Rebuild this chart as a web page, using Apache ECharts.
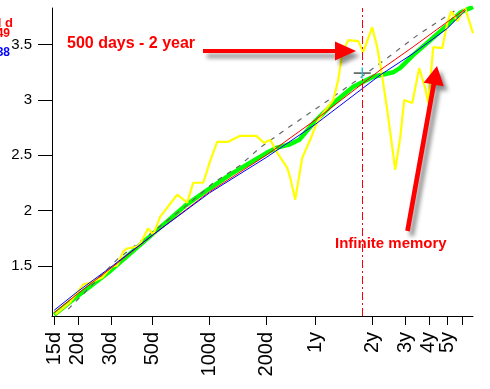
<!DOCTYPE html>
<html>
<head>
<meta charset="utf-8">
<script src="https://cdn.jsdelivr.net/npm/echarts@6/dist/echarts.min.js"></script>
<style>
html,body{margin:0;padding:0;background:#fff;}
#c{width:490px;height:389px;}
</style>
</head>
<body>
<div id="c"></div>
<script>
// ---- data (x in days, y values) ----
const xTickDays = [15, 20, 30, 50, 100, 200, 365, 730, 1095, 1460, 1825, 2190];
const xTickLabels = ['15d', '20d', '30d', '50d', '100d', '200d', '1y', '2y', '3y', '4y', '5y', ''];
const yTickValues = [1.5, 2, 2.5, 3, 3.5];

const fitDays = [15, 20, 30, 50, 100, 200, 365, 805, 1205, 1828, 2281];
const redVals = [1.08, 1.25, 1.48, 1.78, 2.17, 2.50, 2.82, 3.27, 3.48, 3.705, 3.82];
const blueVals = [1.10, 1.27, 1.49, 1.78, 2.16, 2.48, 2.78, 3.225, 3.42, 3.646, 3.81];

const greenDays = [15, 20, 30, 50, 75, 100, 130, 200, 229, 268, 300, 356, 454, 580, 740, 944, 1030, 1205, 1486, 1828, 2143, 2505];
const greenVals = [1.06, 1.23, 1.46, 1.79, 2.05, 2.20, 2.33, 2.52, 2.57, 2.60, 2.64, 2.79, 2.97, 3.12, 3.21, 3.25, 3.29, 3.405, 3.54, 3.675, 3.79, 3.84];

const grayDays = [17.8, 32.4, 50.2, 76.2, 104.7, 145.6, 185.9, 261.8, 397, 608, 879, 1282, 2065];
const grayVals = [1.11, 1.56, 1.81, 2.05, 2.25, 2.41, 2.57, 2.75, 2.96, 3.18, 3.38, 3.59, 3.82];

const yellowDays = [15.2, 18.2, 21.4, 23.3, 27.0, 28.7, 30.5, 32.4, 34.9, 36.6, 41.4, 42.9, 47.3, 50.3, 54.8, 67.4, 76.2, 82.0, 92.7, 100.9, 109.9, 125.8, 145.7, 177.1, 195.3, 210.1, 228.9, 258.7, 268.4, 285.3, 310.7, 342.6, 373.3, 401.6, 453.9, 482.5, 506.7, 545.2, 616.2, 654.9, 730.9, 777, 816, 878.3, 968.3, 1029, 1081, 1192, 1298, 1397, 1450, 1541, 1720, 1828, 1920, 2066, 2278, 2505];
const yellowVals = [1.063, 1.171, 1.333, 1.351, 1.396, 1.450, 1.495, 1.505, 1.631, 1.658, 1.676, 1.703, 1.838, 1.784, 1.946, 2.144, 2.072, 2.252, 2.252, 2.450, 2.622, 2.622, 2.676, 2.676, 2.613, 2.640, 2.523, 2.387, 2.297, 2.099, 2.477, 2.640, 2.802, 2.883, 3.0, 3.180, 3.423, 3.541, 3.532, 3.432, 3.658, 3.477, 3.270, 2.910, 2.369, 2.658, 3.0, 2.973, 3.288, 3.108, 2.973, 3.477, 3.468, 3.694, 3.802, 3.712, 3.829, 3.604];

const markerDay = 647;
const crossPoint = [647, 3.243];

// ---- helpers ----
const L = d => Math.log10(d);
const pts = (days, vals) => days.map((d, i) => [L(d), vals[i]]);
const FONT = '"Liberation Sans", Arial, sans-serif';

const chart = echarts.init(document.getElementById('c'), null, {renderer: 'canvas'});
const shadow = {shadowBlur: 4, shadowColor: 'rgba(0,0,0,0.45)', shadowOffsetX: 4, shadowOffsetY: 5};

chart.setOption({
  animation: false,
  backgroundColor: '#ffffff',
  grid: {left: 52, right: 17, top: 8, bottom: 73},
  xAxis: {
    type: 'value',
    min: L(14.6),
    max: L(2505),
    axisLine: {show: true, onZero: false, lineStyle: {color: '#000', width: 1}},
    axisTick: {show: true, length: 9, customValues: xTickDays.map(L), lineStyle: {color: '#000'}},
    axisLabel: {
      customValues: xTickDays.map(L),
      rotate: 90,
      margin: 16,
      color: '#000',
      fontSize: 20,
      fontFamily: FONT,
      formatter: v => {
        let best = 0, bd = 1e9;
        xTickDays.forEach((d, i) => { const dd = Math.abs(L(d) - v); if (dd < bd) { bd = dd; best = i; } });
        return xTickLabels[best];
      }
    },
    splitLine: {show: false}
  },
  yAxis: {
    type: 'value',
    min: 1.048,
    max: 3.831,
    axisLine: {show: true, onZero: false, lineStyle: {color: '#000', width: 1}},
    axisTick: {show: true, length: 14, customValues: yTickValues, lineStyle: {color: '#000'}},
    axisLabel: {
      customValues: yTickValues,
      margin: 20,
      color: '#000',
      fontSize: 15,
      fontFamily: FONT,
      formatter: v => String(v)
    },
    splitLine: {show: false}
  },
  series: [
    {
      type: 'line', name: 'green', data: pts(greenDays, greenVals), showSymbol: false, silent: true,
      lineStyle: {color: '#00ff00', width: 4.5}, z: 2
    },
    {
      type: 'line', name: 'gray', data: pts(grayDays, grayVals), showSymbol: false, silent: true,
      lineStyle: {color: '#666666', width: 1.2, type: [5, 6]}, z: 3
    },
    {
      type: 'line', name: 'yellow', data: pts(yellowDays, yellowVals), showSymbol: false, silent: true,
      lineStyle: {color: '#ffff00', width: 2.2}, z: 3,
      markLine: {
        silent: true, symbol: 'none', label: {show: false},
        lineStyle: {color: '#ff0000', width: 1, type: [8, 3, 2, 3]},
        data: [{xAxis: L(markerDay)}]
      }
    },
    {
      type: 'line', name: 'red', data: pts(fitDays, redVals), showSymbol: false, silent: true,
      lineStyle: {color: '#ff0000', width: 1}, z: 4
    },
    {
      type: 'line', name: 'blue', data: pts(fitDays, blueVals), showSymbol: false, silent: true,
      lineStyle: {color: '#0000ff', width: 1}, z: 4
    },
    {
      type: 'scatter', silent: true, data: [[L(crossPoint[0]), crossPoint[1]]],
      symbol: 'rect', symbolSize: [17, 1.3], itemStyle: {color: '#000'}, z: 6
    },
    {
      type: 'scatter', silent: true, data: [[L(crossPoint[0]), crossPoint[1]]],
      symbol: 'rect', symbolSize: [1.5, 11], itemStyle: {color: '#00e0ff'}, z: 6
    }
  ],
  graphic: [
    {type: 'text', z: 100, x: 13, y: 23, style: {text: 'l d', fill: '#ff0000', font: 'bold 13px ' + FONT, textAlign: 'right', textVerticalAlign: 'middle'}},
    {type: 'text', z: 100, x: 10, y: 34, style: {text: '49', fill: '#ff0000', font: 'bold 12px ' + FONT, textAlign: 'right', textVerticalAlign: 'middle'}},
    {type: 'text', z: 100, x: 10, y: 53, style: {text: '38', fill: '#0000ff', font: 'bold 12px ' + FONT, textAlign: 'right', textVerticalAlign: 'middle'}},
    {type: 'text', z: 100, x: 67, y: 44, style: Object.assign({text: '500 days - 2 year', fill: '#ff0000', font: 'bold 16px ' + FONT, textAlign: 'left', textVerticalAlign: 'middle'}, shadow)},
    {type: 'text', z: 100, x: 335, y: 244, style: Object.assign({text: 'Infinite memory', fill: '#ff0000', font: 'bold 15px ' + FONT, textAlign: 'left', textVerticalAlign: 'middle'}, shadow)},
    {type: 'polygon', z: 100, shape: {points: [[203, 49], [335, 49], [335, 41.5], [356, 51], [335, 60.5], [335, 53], [203, 53]]}, style: Object.assign({fill: '#ff0000'}, shadow)},
    {type: 'polygon', z: 100, shape: {points: [[405.2, 230.6], [431.4, 84.1], [423.6, 82.7], [437, 66], [443.8, 86.3], [436.0, 84.9], [409.8, 231.4]]}, style: Object.assign({fill: '#ff0000'}, shadow)}
  ]
});
</script>
</body>
</html>
